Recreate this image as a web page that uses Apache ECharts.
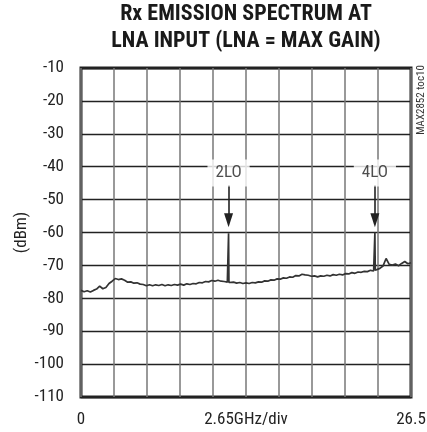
<!DOCTYPE html>
<html>
<head>
<meta charset="utf-8">
<script src="https://cdn.jsdelivr.net/npm/echarts@6/dist/echarts.min.js"></script>
<style>html,body{margin:0;padding:0;background:#fff}#c{width:427px;height:432px}</style>
</head>
<body>
<div id="c"></div>
<script>
// Frequency (GHz) and level (dBm) of the measured trace
const freqGHz = [
  0.00,0.25,0.50,0.75,1.00,1.25,1.50,1.75,2.00,2.25,2.50,2.75,3.00,3.25,3.50,3.75,
  4.00,4.25,4.50,4.75,5.00,5.25,5.50,5.75,6.00,6.25,6.50,6.75,7.00,7.25,7.50,7.75,
  8.00,8.25,8.50,8.75,9.00,9.25,9.50,9.75,10.00,10.25,10.50,10.75,11.00,11.25,11.50,11.75,
  11.82,11.85,11.88,
  12.00,12.25,12.50,12.75,13.00,13.25,13.50,13.75,14.00,14.25,14.50,14.75,15.00,15.25,15.50,15.75,
  16.00,16.25,16.50,16.75,17.00,17.25,17.50,17.75,18.00,18.25,18.50,18.75,19.00,19.25,19.50,19.75,
  20.00,20.25,20.50,20.75,21.00,21.25,21.50,21.75,22.00,22.25,22.50,22.75,23.00,23.25,23.50,
  23.57,23.60,23.63,
  23.75,24.00,24.25,24.50,24.75,25.00,25.25,25.50,25.75,26.00,26.25,26.50
];
const levelDbm = [
  -77.6,-78.0,-77.7,-78.1,-77.6,-77.2,-76.3,-77.1,-76.7,-75.5,-74.8,-74.0,-74.3,-74.1,-74.5,-75.1,
  -75.0,-75.4,-75.3,-75.7,-75.8,-76.2,-75.9,-76.2,-75.9,-76.1,-75.8,-76.2,-75.9,-76.1,-75.8,-76.0,
  -75.7,-76.0,-75.6,-75.8,-75.5,-75.6,-75.2,-75.3,-74.9,-75.0,-74.6,-74.8,-74.5,-74.8,-74.9,-75.1,
  -75.1,-60.2,-75.2,
  -75.3,-75.1,-75.4,-75.2,-75.5,-75.3,-75.5,-75.2,-75.3,-75.0,-75.1,-74.7,-74.8,-74.4,-74.5,-74.1,
  -74.2,-73.8,-73.9,-73.5,-73.6,-73.1,-73.2,-72.7,-72.9,-73.0,-73.3,-73.2,-73.5,-73.2,-73.3,-73.0,
  -73.2,-72.8,-73.0,-72.7,-72.9,-72.5,-72.6,-72.2,-72.4,-72.0,-72.1,-71.8,-71.9,-71.5,-71.7,
  -71.6,-60.0,-71.5,
  -71.3,-70.9,-70.2,-67.9,-69.7,-69.9,-69.6,-70.1,-69.4,-68.8,-69.5,-69.2
];
// Spur annotations
const spurNames = ['2LO', '4LO'];
const spurFreq = [11.85, 23.6];
const spurLabelLevel = -41.9;
const arrowFromLevel = -45.6;
const arrowToLevel = -56.3;
// Axis ticks
const yTicks = [-110,-100,-90,-80,-70,-60,-50,-40,-30,-20,-10];
const xEndLabels = ['0', '26.5'];
const xAxisName = '2.65GHz/div';
const yAxisName = '(dBm)';
const titleLines = ['Rx EMISSION SPECTRUM AT', 'LNA INPUT (LNA = MAX GAIN)'];
const sideNote = 'MAX2852 toc10';

const FONT = 'Roboto Condensed';
const chart = echarts.init(document.getElementById('c'), null, {renderer: 'canvas'});

const trace = freqGHz.map((f, i) => [f, levelDbm[i]]);
const labelPts = spurNames.map((n, i) => ({name: n, value: [spurFreq[i], spurLabelLevel]}));
const arrows = spurFreq.map(f => [{coord: [f, arrowFromLevel]}, {coord: [f, arrowToLevel]}]);

chart.setOption({
  animation: false,
  backgroundColor: '#fff',
  grid: {left: 81, right: 16, top: 68, bottom: 35, containLabel: false, outerBoundsMode: 'none',
         show: true, borderColor: '#222', borderWidth: 3, backgroundColor: 'transparent'},
  graphic: [
    {type: 'text', x: 246, y: 14.5, style: {text: titleLines[0], font: 'bold 22px "' + FONT + '"', fill: '#1a1a1a', textAlign: 'center', textVerticalAlign: 'middle'}},
    {type: 'text', x: 246, y: 41.5, style: {text: titleLines[1], font: 'bold 22px "' + FONT + '"', fill: '#1a1a1a', textAlign: 'center', textVerticalAlign: 'middle'}},
    {type: 'text', x: 421, y: 100, rotation: Math.PI / 2, style: {text: sideNote, font: '11px "' + FONT + '"', fill: '#333', textAlign: 'center', textVerticalAlign: 'middle'}}
  ],
  xAxis: {
    type: 'value', min: 0, max: 26.5, interval: 2.65,
    name: xAxisName, nameLocation: 'middle', nameGap: 14, nameMoveOverlap: false,
    nameTextStyle: {fontFamily: FONT, fontSize: 17, color: '#222'},
    axisLine: {show: false}, axisTick: {show: false},
    axisLabel: {
      fontFamily: FONT, fontSize: 17, color: '#222', margin: 14, showMinLabel: true, showMaxLabel: true,
      formatter: v => Math.abs(v) < 1e-6 ? xEndLabels[0] : (Math.abs(v - 26.5) < 1e-3 ? xEndLabels[1] : '')
    },
    splitLine: {show: true, lineStyle: {color: '#777', width: 1.5}}
  },
  yAxis: {
    type: 'value', min: yTicks[0], max: yTicks[yTicks.length - 1], interval: 10,
    name: yAxisName, nameLocation: 'middle', nameGap: 51, nameMoveOverlap: false,
    nameTextStyle: {fontFamily: FONT, fontSize: 17, color: '#222'},
    axisLine: {show: false}, axisTick: {show: false},
    axisLabel: {fontFamily: FONT, fontSize: 17, color: '#222', margin: 17},
    splitLine: {show: true, lineStyle: {color: '#222', width: 1.3}}
  },
  series: [
    {
      type: 'line', data: trace, showSymbol: false, symbol: 'none',
      lineStyle: {color: '#333', width: 1.7}, z: 3,
      markLine: {
        silent: true, symbol: ['none', 'triangle'], symbolSize: [9, 14],
        label: {show: false},
        lineStyle: {color: '#222', width: 1.6, type: 'solid'},
        data: arrows
      }
    },
    {
      type: 'scatter', data: labelPts, symbolSize: 0, z: 5,
      label: {
        show: true, position: 'inside', formatter: p => p.name,
        fontFamily: FONT, fontSize: 17, color: '#222',
        backgroundColor: '#fff', padding: [5, 8, 5, 8]
      }
    }
  ]
});
</script>
</body>
</html>
